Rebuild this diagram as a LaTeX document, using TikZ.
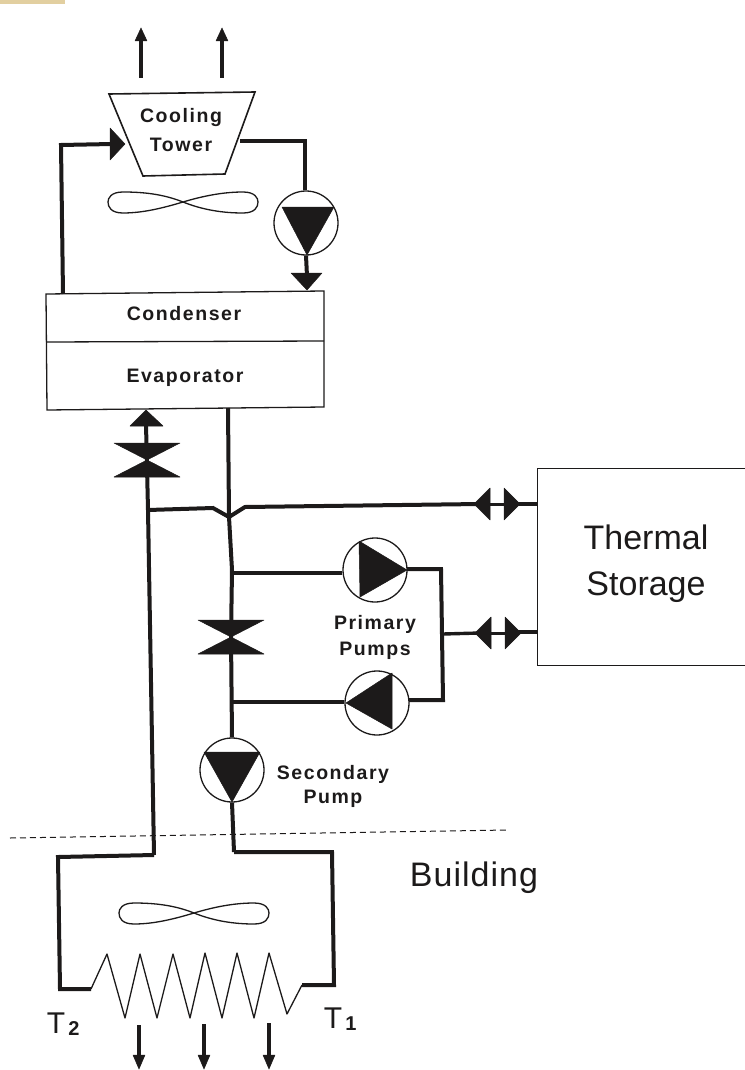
\documentclass[tikz,border=0pt]{standalone}
\usepackage{fontspec}
\setmainfont{Liberation Sans}
\newfontfamily\labelfont[LetterSpace=8]{Liberation Sans}
\newfontfamily\widefont[LetterSpace=3]{Liberation Sans}
\definecolor{ink}{HTML}{1C1A1A}
\definecolor{tan}{HTML}{E2CFA0}
\tikzset{
  pipe/.style={draw=ink,line width=4pt,line join=miter},
  thinpipe/.style={draw=ink,line width=3.4pt},
  outline/.style={draw=ink,line width=1.3pt,fill=none},
  blob/.style={fill=ink,draw=ink,line width=.5pt,line join=round},
  pumpcircle/.style={circle,draw=ink,line width=1.3pt,minimum size=64pt,inner sep=0pt,fill=white},
  smalllabel/.style={font=\labelfont\bfseries\fontsize{19.5}{21}\selectfont,text=ink,inner sep=0pt},
  biglabel/.style={font=\fontsize{34}{46}\selectfont,text=ink,inner sep=0pt},
  boxlabel/.style={font=\widefont\fontsize{34}{36}\selectfont,text=ink,inner sep=0pt},
  templabel/.style={font=\fontsize{30}{32}\selectfont,text=ink,inner sep=0pt},
  tempindex/.style={font=\fontsize{20}{22}\selectfont\bfseries,text=ink,inner sep=0pt}
}
\newcommand{\fanshape}[2]{%
  \begin{scope}[shift={(#1,#2)}]
  \draw[ink,line width=1.3pt]
    (0,0) .. controls (-20,-8) and (-40,-10) .. (-60,-10)
    .. controls (-72,-10) and (-75,-4) .. (-75,0)
    .. controls (-75,5) and (-72,11) .. (-60,11)
    .. controls (-40,11) and (-20,6) .. (0,0)
    .. controls (20,-6) and (40,-10) .. (60,-10)
    .. controls (72,-10) and (75,-4) .. (75,0)
    .. controls (75,5) and (72,11) .. (60,11)
    .. controls (40,11) and (20,8) .. (0,0) -- cycle;
  \end{scope}}
\newcommand{\valvetie}[2]{%
  \path[blob] (#1-33,#2-17) -- (#1+33,#2-17) -- (#1,#2) -- cycle;
  \path[blob] (#1-33,#2+17) -- (#1+33,#2+17) -- (#1,#2) -- cycle;}
\newcommand{\twoway}[2]{%
  \path[blob] (#1-23,#2) -- (#1-7,#2-16) -- (#1-7,#2+16) -- cycle;
  \path[blob] (#1+23,#2) -- (#1+7,#2-16) -- (#1+7,#2+16) -- cycle;
  \draw[ink,line width=3pt] (#1-10,#2) -- (#1+10,#2);}
\begin{document}
\begin{tikzpicture}[x=1pt,y=-1pt]
\useasboundingbox (0,0) rectangle (744,1070);
\fill[tan] (0,0) rectangle (65,4);

% top exhaust arrows
\coordinate (ua1) at (141,78); \coordinate (ub1) at (141,38);
\coordinate (ua2) at (222,78); \coordinate (ub2) at (222,38);
\draw[pipe] (ua1) -- (ub1);
\draw[pipe] (ua2) -- (ub2);
\path[blob] (141,28) -- (135,41) -- (147,41) -- cycle;
\path[blob] (222,28) -- (216,41) -- (228,41) -- cycle;

% cooling tower
\draw[outline,line width=1.6pt] (109,94) -- (255,92) -- (225,174) -- (143,176) -- cycle;
\node[smalllabel] (cooling) at (181,118) {Cooling};
\node[smalllabel] (tower) at (181,145) {Tower};
\fanshape{183}{202}

% condenser / evaporator
\draw[outline] (46,294) -- (324,291) -- (324,407) -- (47,410) -- cycle;
\draw[outline] (46,342) -- (324,341);
\node[smalllabel] (condenser) at (184,314) {Condenser};
\node[smalllabel] (evaporator) at (185,378) {Evaporator};

% condenser water loop
\coordinate (cwa) at (63,294);
\coordinate (cwb) at (61,145);
\coordinate (cwc) at (112,144);
\draw[pipe] (cwa) -- (cwb) -- (cwc);
\path[blob] (110,128) -- (125,144) -- (110,160) -- cycle;
\coordinate (cwd) at (240,141);
\coordinate (cwe) at (305,141);
\node[pumpcircle] (ctpump) at (306,223) {};
\draw[pipe] (cwd) -- (cwe) -- (ctpump.north -| cwe);
\path[blob] (282,207) -- (334,207) -- (307,255) -- cycle;
\coordinate (cwf) at (307,276);
\draw[pipe] (ctpump.south) -- (cwf);
\path[blob] (291,273) -- (322,273) -- (307,290) -- cycle;

% chilled water supply / return
\coordinate (sa) at (228,408);
\coordinate (sb) at (229,517);
\coordinate (sc) at (232,570);
\coordinate (valvemid) at (231,637);
\node[pumpcircle] (secpump) at (232,770) {};
\draw[pipe] (sa) -- (sb) -- (sc) -- (valvemid) -- (secpump.north);
\valvetie{231}{637}
\path[blob] (204,752) -- (260,752) -- (232,802) -- cycle;

\coordinate (ra) at (146,424);
\coordinate (rb) at (148,510);
\coordinate (rc) at (154,855);
\draw[pipe] (ra) -- (rb) -- (rc);
\path[blob] (146,410) -- (130,426) -- (163,426) -- cycle;
\valvetie{147}{460}

% crossover to storage
\coordinate (xa) at (213,508);
\coordinate (xb) at (245,507);
\coordinate (xc) at (480,504);
\node[draw=ink,line width=1.2pt,minimum width=220pt,minimum height=197pt,inner sep=0pt,anchor=west] (storage) at (537,567) {};
\node[biglabel,align=center] (storagetext) at (646,564) {Thermal\\Storage};
\draw[pipe] (rb) -- (xa) -- (sb) -- (xb) -- (xc);
\twoway{497}{504}
\coordinate (xd) at (537,504);
\draw[thinpipe] (515,504) -- (xd);

% primary pumps
\node[pumpcircle] (pp1) at (375,570) {};
\node[pumpcircle] (pp2) at (377,703) {};
\coordinate (pa) at (232,573);
\coordinate (pb) at (232,702);
\coordinate (pc) at (441,569);
\coordinate (pd) at (443,700);
\coordinate (pe) at (443,634);
\draw[thinpipe] (pa) -- (pp1.west |- pa);
\draw[pipe] (pb) -- (pp2.west |- pb);
\draw[pipe] (407,569) -- (pc) -- (pd) -- (409,700);
\path[blob] (359,541) -- (407,570) -- (360,597) -- cycle;
\path[blob] (346,703) -- (392,673) -- (392,729) -- cycle;
\node[smalllabel] (primary) at (375,624) {Primary};
\node[smalllabel] (pumps) at (375,651) {Pumps};
\coordinate (pf) at (480,633);
\draw[thinpipe] (pe) -- (pf);
\twoway{498}{633}
\coordinate (pg) at (537,632);
\draw[thinpipe] (515,632) -- (pg);

% secondary pump label
\node[smalllabel] (secondary) at (333,774) {Secondary};
\node[smalllabel] (sppump) at (333,799) {Pump};

% building
\coordinate (da) at (10,838); \coordinate (db) at (508,830);
\draw[ink,line width=1pt,dash pattern=on 6pt off 4pt] (da) -- (db);
\node[boxlabel] (building) at (474,878) {Building};

% load coil
\coordinate (la) at (58,857);
\coordinate (lb) at (60,989);
\coordinate (lc) at (91,989);
\coordinate (ld) at (302,985);
\coordinate (le) at (334,985);
\coordinate (lf) at (332,852);
\coordinate (lg) at (234,852);
\draw[pipe] (rc) -- (la) -- (lb) -- (lc);
\draw[pipe] (ld) -- (le) -- (lf) -- (lg);
\draw[pipe] (secpump.south) -- (lg);
\draw[ink,line width=1.3pt,line join=round] (lc) -- (107,954) -- (125,1018) -- (140,954) -- (157,1018) -- (173,954) -- (190,1018) -- (205,953) -- (222,1018) -- (237,953) -- (254,1018) -- (269,953) -- (287,1014) -- (ld);
\fanshape{194}{913}
\node[templabel] (t2t) at (56,1023) {T};
\node[tempindex] (t2n) at (74,1029) {2};
\node[templabel] (t1t) at (333,1018) {T};
\node[tempindex] (t1n) at (351,1024) {1};

% air out
\coordinate (da1) at (139,1025); \coordinate (da2) at (139,1058);
\coordinate (db1) at (204,1024); \coordinate (db2) at (204,1058);
\coordinate (dc1) at (269,1023); \coordinate (dc2) at (269,1058);
\draw[pipe] (da1) -- (da2);
\draw[pipe] (db1) -- (db2);
\draw[pipe] (dc1) -- (dc2);
\path[blob] (139,1069) -- (133,1055) -- (145,1055) -- cycle;
\path[blob] (204,1069) -- (198,1055) -- (210,1055) -- cycle;
\path[blob] (269,1069) -- (263,1055) -- (275,1055) -- cycle;
\end{tikzpicture}
\end{document}
